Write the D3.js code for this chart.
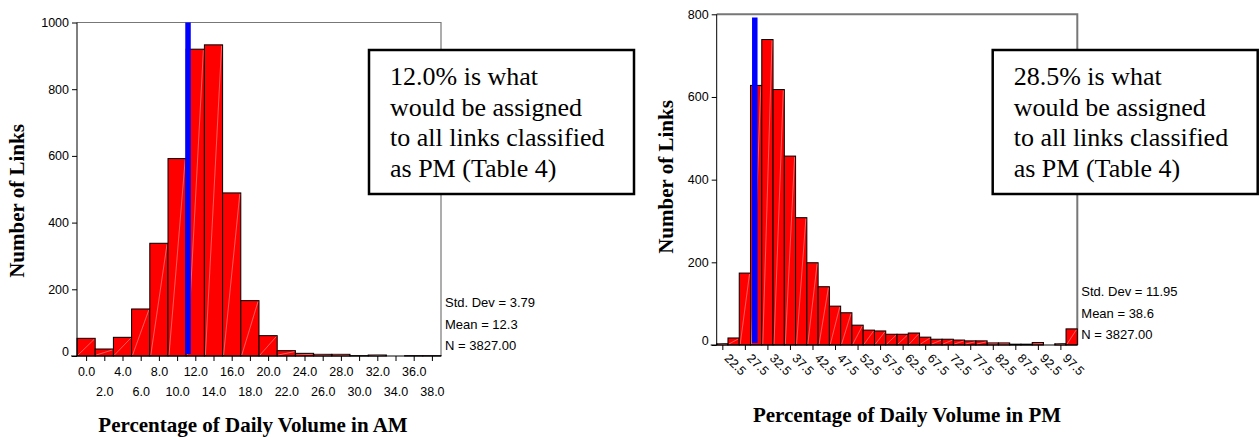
<!DOCTYPE html>
<html>
<head>
<meta charset="utf-8">
<script src="https://cdn.jsdelivr.net/npm/d3@7/dist/d3.min.js"></script>
<style>
  body { margin: 0; background: #fff; }
  svg { display: block; }
</style>
</head>
<body>
<svg id="chart" width="1259" height="437"></svg>
<script>
// AM histogram: bin centres (%), counts
const amBins = [0, 2, 4, 6, 8, 10, 12, 14, 16, 18, 20, 22, 24, 26, 28, 30, 32, 34, 36, 38];
const amCounts = [53, 21, 56, 141, 338, 592, 920, 933, 489, 166, 61, 16, 8, 5, 5, 1, 3, 0, 1, 1];
const amYTicks = [0, 200, 400, 600, 800, 1000];
const amMarker = 11.2; // blue line, where the chart draws it
const amStats = ["Std. Dev = 3.79", "Mean = 12.3", "N = 3827.00"];
const amNote = ["12.0% is what", "would be assigned", "to all links classified", "as PM (Table 4)"];

// PM histogram
const pmBins = [22.5, 25, 27.5, 30, 32.5, 35, 37.5, 40, 42.5, 45, 47.5, 50, 52.5, 55, 57.5, 60,
  62.5, 65, 67.5, 70, 72.5, 75, 77.5, 80, 82.5, 85, 87.5, 90, 92.5, 95, 97.5, 100];
const pmCounts = [3, 17, 174, 628, 739, 618, 457, 308, 199, 141, 94, 78, 48, 36, 34, 26,
  26, 29, 19, 14, 14, 12, 10, 10, 5, 5, 2, 2, 6, 0, 3, 39];
const pmXTicks = [22.5, 27.5, 32.5, 37.5, 42.5, 47.5, 52.5, 57.5, 62.5, 67.5, 72.5, 77.5, 82.5, 87.5, 92.5, 97.5];
const pmYTicks = [0, 200, 400, 600, 800];
const pmMarker = 29.7;
const pmMarkerTop = 792;
const pmStats = ["Std. Dev = 11.95", "Mean = 38.6", "N = 3827.00"];
const pmNote = ["28.5% is what", "would be assigned", "to all links classified", "as PM (Table 4)"];

const SANS = "'Liberation Sans', Arial, sans-serif";
const SERIF = "'Liberation Serif', 'Times New Roman', serif";

const svg = d3.select("#chart");

function drawHist(opt) {
  const g = svg.append("g");
  const half = opt.binWidth / 2;
  const x = d3.scaleLinear()
    .domain([opt.bins[0] - half, opt.bins[opt.bins.length - 1] + half])
    .range([opt.left, opt.right]);
  const y = d3.scaleLinear().domain([0, opt.yMax]).range([opt.bottom, opt.top]);

  // frame top / right
  g.append("path")
    .attr("d", `M${opt.left},${opt.top}H${opt.right}V${opt.bottom}`)
    .attr("fill", "none")
    .attr("stroke", "#777")
    .attr("stroke-width", opt.frameWidth);

  const bars = g.append("g").selectAll("g")
    .data(opt.bins.map((b, i) => ({ b, v: opt.counts[i] })))
    .join("g");
  bars.append("rect")
    .attr("x", d => x(d.b - half))
    .attr("y", d => y(d.v))
    .attr("width", d => x(d.b + half) - x(d.b - half))
    .attr("height", d => y(0) - y(d.v))
    .attr("fill", "#ff0000")
    .attr("stroke", "#000")
    .attr("stroke-width", 1);
  // faint diagonal sheen inside each bar
  bars.filter(d => d.v > 2).append("line")
    .attr("x1", d => x(d.b - half) + 1)
    .attr("y1", y(0) - 1)
    .attr("x2", d => x(d.b + half) - 1)
    .attr("y2", d => y(d.v) + 1)
    .attr("stroke", "#ff9a9a")
    .attr("stroke-width", 0.6);

  // marker
  g.append("line")
    .attr("x1", x(opt.marker)).attr("x2", x(opt.marker))
    .attr("y1", y(opt.markerTop)).attr("y2", y(0) - 2)
    .attr("stroke", "#0000ff")
    .attr("stroke-width", 5.5);

  // y axis
  const yAxis = g.append("g")
    .attr("transform", `translate(${opt.left},0)`)
    .call(d3.axisLeft(y).tickValues(opt.yTicks).tickSize(5).tickPadding(3).tickFormat(d3.format("d")));
  yAxis.select(".domain").attr("d", `M0,${opt.top}V${opt.bottom}`);
  yAxis.selectAll("text")
    .attr("font-family", SANS).attr("font-size", 12.5).attr("fill", "#000")
    .filter(d => d === 0).attr("dy", "-0.08em");

  // x axis
  const xAxis = g.append("g")
    .attr("transform", `translate(0,${opt.bottom})`)
    .call(d3.axisBottom(x).tickValues(opt.xTicks).tickSize(5).tickFormat(d3.format(".1f")));
  xAxis.select(".domain").attr("d", `M${opt.left - 6},0H${opt.right}`);
  xAxis.selectAll("text").attr("font-family", SANS).attr("font-size", 12.5).attr("fill", "#000");
  opt.labelStyle(xAxis.selectAll(".tick text"));

  // axis titles
  g.append("text")
    .attr("transform", `translate(${opt.yTitleX},${opt.yTitleY}) rotate(-90)`)
    .attr("text-anchor", "middle")
    .attr("font-family", SERIF).attr("font-weight", "bold").attr("font-size", 21)
    .text("Number of Links");
  g.append("text")
    .attr("x", opt.xTitleX).attr("y", opt.xTitleY)
    .attr("text-anchor", "middle")
    .attr("font-family", SERIF).attr("font-weight", "bold").attr("font-size", 21)
    .text(opt.xTitle);

  // stats
  g.append("g").selectAll("text")
    .data(opt.stats)
    .join("text")
    .attr("x", opt.right + 4)
    .attr("y", (d, i) => opt.statsY + i * 21.7)
    .attr("font-family", SANS).attr("font-size", 13)
    .text(d => d);

  // note box
  g.append("rect")
    .attr("x", opt.boxX).attr("y", 50)
    .attr("width", 265).attr("height", 144)
    .attr("fill", "#fff").attr("stroke", "#000").attr("stroke-width", 2.5);
  g.append("g").selectAll("text")
    .data(opt.note)
    .join("text")
    .attr("x", opt.boxX + 21)
    .attr("y", (d, i) => 85 + i * 30.5)
    .attr("font-family", SERIF).attr("font-size", 26)
    .text(d => d);
}

drawHist({
  bins: amBins, counts: amCounts, binWidth: 2, yMax: 1000, yTicks: amYTicks,
  xTicks: amBins, marker: amMarker, markerTop: 1000,
  left: 77, right: 441, top: 22.5, bottom: 356, frameWidth: 1.2,
  labelStyle: sel => sel.attr("y", (d, i) => i % 2 ? 31 : 11.5).attr("dy", "0.71em"),
  yTitleX: 24, yTitleY: 201, xTitle: "Percentage of Daily Volume in AM", xTitleX: 253, xTitleY: 432,
  stats: amStats, statsY: 307, note: amNote, boxX: 369
});

drawHist({
  bins: pmBins, counts: pmCounts, binWidth: 2.5, yMax: 800, yTicks: pmYTicks,
  xTicks: pmXTicks, marker: pmMarker, markerTop: pmMarkerTop,
  left: 716.7, right: 1077.3, top: 14.3, bottom: 345, frameWidth: 2,
  labelStyle: sel => sel.attr("text-anchor", "start").attr("y", 0).attr("dy", 0)
    .attr("transform", "translate(1,14) rotate(45)"),
  yTitleX: 673, yTitleY: 177, xTitle: "Percentage of Daily Volume in PM", xTitleX: 907, xTitleY: 422,
  stats: pmStats, statsY: 296, note: pmNote, boxX: 992.7
});
</script>
</body>
</html>
